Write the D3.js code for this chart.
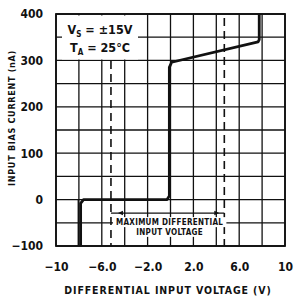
<!DOCTYPE html>
<html>
<head>
<meta charset="utf-8">
<script src="https://cdn.jsdelivr.net/npm/d3@7"></script>
<style>
  body { margin: 0; background: #fff; }
  svg text { font-family: "Liberation Sans Narrow", "DejaVu Sans Condensed", sans-serif; font-weight: bold; fill: #111; }
</style>
</head>
<body>
<svg id="chart" width="300" height="305"></svg>
<script>
// data
var curveV = [-7.85, -7.85, -7.6, -0.3, -0.1, -0.1, 0.1, 7.65, 7.75, 7.75];
var curveI = [-100, -8, 0, 0, 8, 285, 296, 340, 345, 400];
var thinV = [-8.05, -8.05];
var thinI = [-100, 0];
var limitV = [-5.2, 4.7];
var xTicks = [-10, -6, -2, 2, 6, 10];
var xTickLabels = ["\u221210", "\u22126.0", "\u22122.0", "2.0", "6.0", "10"];
var yTicks = [-100, 0, 100, 200, 300, 400];
var yTickLabels = ["\u2212100", "0", "100", "200", "300", "400"];
var xGrid = d3.range(-10, 10.1, 2);
var yGrid = d3.range(-100, 401, 50);

var svg = d3.select("#chart"),
    margin = {top: 14, left: 56},
    width = 229,
    height = 232,
    g = svg.append("g").attr("transform", "translate(" + margin.left + "," + margin.top + ")");

var x = d3.scaleLinear().domain([-10, 10]).range([0, width]),
    y = d3.scaleLinear().domain([-100, 400]).range([height, 0]);

// grid
g.append("g")
    .selectAll("line.vg").data(xGrid).enter().append("line")
    .attr("x1", d => x(d)).attr("x2", d => x(d))
    .attr("y1", 0).attr("y2", height)
    .attr("stroke", "#111").attr("stroke-width", 1.3);
g.append("g")
    .selectAll("line.hg").data(yGrid).enter().append("line")
    .attr("x1", 0).attr("x2", width)
    .attr("y1", d => y(d)).attr("y2", d => y(d))
    .attr("stroke", "#111").attr("stroke-width", 1.3);

// conditions box hides the grid
g.append("rect").attr("x", 6).attr("y", 1.5).attr("width", 76).attr("height", 44).attr("fill", "#fff");
var cond = g.append("text").attr("x", 44).attr("y", 20).attr("text-anchor", "middle").style("font-size", "12.5px");
cond.append("tspan").text("V");
cond.append("tspan").attr("dy", 3).style("font-size", "8px").text("S");
cond.append("tspan").attr("dy", -3).text(" = \u00b115V");
var cond2 = g.append("text").attr("x", 44).attr("y", 38).attr("text-anchor", "middle").style("font-size", "12.5px");
cond2.append("tspan").text("T");
cond2.append("tspan").attr("dy", 3).style("font-size", "8px").text("A");
cond2.append("tspan").attr("dy", -3).text(" = 25\u00b0C");

// limit dashed lines
g.selectAll("line.lim").data(limitV).enter().append("line")
    .attr("x1", d => x(d)).attr("x2", d => x(d))
    .attr("y1", (d, i) => i == 0 ? 47 : 4).attr("y2", height)
    .attr("stroke", "#111").attr("stroke-width", 1.6)
    .attr("stroke-dasharray", "8,5");

// annotation
var ay = y(-29);
g.append("line").attr("x1", x(limitV[0])).attr("x2", x(limitV[1]))
    .attr("y1", ay).attr("y2", ay).attr("stroke", "#111").attr("stroke-width", 1.2);
[[x(limitV[0]) + 11, -1], [x(limitV[1]) - 9, 1]].forEach(function(a) {
    g.append("path")
        .attr("d", "M" + (a[0] + a[1] * 4) + "," + ay + "l" + (-a[1] * 5) + ",-2.2v4.4z")
        .attr("fill", "#111");
});
var ann = [["MAXIMUM DIFFERENTIAL", y(-55)], ["INPUT VOLTAGE", y(-76)]];
ann.forEach(function(a) {
    var t = g.append("text").attr("x", (x(limitV[0]) + x(limitV[1])) / 2 + 2).attr("y", a[1])
        .attr("text-anchor", "middle").style("font-size", "8px").style("letter-spacing", "0.3px").text(a[0]);
    var b = t.node().getBBox();
    g.insert("rect", "text:last-of-type").attr("x", b.x - 3).attr("y", b.y - 1)
        .attr("width", b.width + 6).attr("height", b.height + 1).attr("fill", "#fff");
    t.raise();
});

// border
g.append("rect").attr("width", width).attr("height", height)
    .attr("fill", "none").attr("stroke", "#111").attr("stroke-width", 1.8);

// curves
var line = d3.line().x(d => x(d[0])).y(d => y(d[1]));
g.append("path").datum(d3.zip(thinV, thinI)).attr("d", line)
    .attr("fill", "none").attr("stroke", "#111").attr("stroke-width", 1.5);
g.append("path").datum(d3.zip(curveV, curveI)).attr("d", line)
    .attr("fill", "none").attr("stroke", "#111").attr("stroke-width", 2.8).attr("stroke-linejoin", "round");

// axes
var xAxis = g.append("g").attr("transform", "translate(0," + height + ")")
    .call(d3.axisBottom(x).tickValues(xTicks).tickSize(0).tickPadding(16)
        .tickFormat((d, i) => xTickLabels[i]));
var yAxis = g.append("g")
    .call(d3.axisLeft(y).tickValues(yTicks).tickSize(0).tickPadding(13)
        .tickFormat((d, i) => yTickLabels[i]));
[xAxis, yAxis].forEach(function(a) {
    a.select(".domain").remove();
    a.selectAll("text").style("font-size", "12px").style("font-family", null).attr("fill", "#111");
});

// titles
svg.append("text").attr("x", 168).attr("y", 294).attr("text-anchor", "middle")
    .style("font-size", "10.5px").style("letter-spacing", "0.9px").text("DIFFERENTIAL INPUT VOLTAGE (V)");
svg.append("text").attr("transform", "translate(15,118) rotate(-90)").attr("text-anchor", "middle")
    .style("font-size", "9px").style("letter-spacing", "0.7px").text("INPUT BIAS CURRENT (nA)");
</script>
</body>
</html>
